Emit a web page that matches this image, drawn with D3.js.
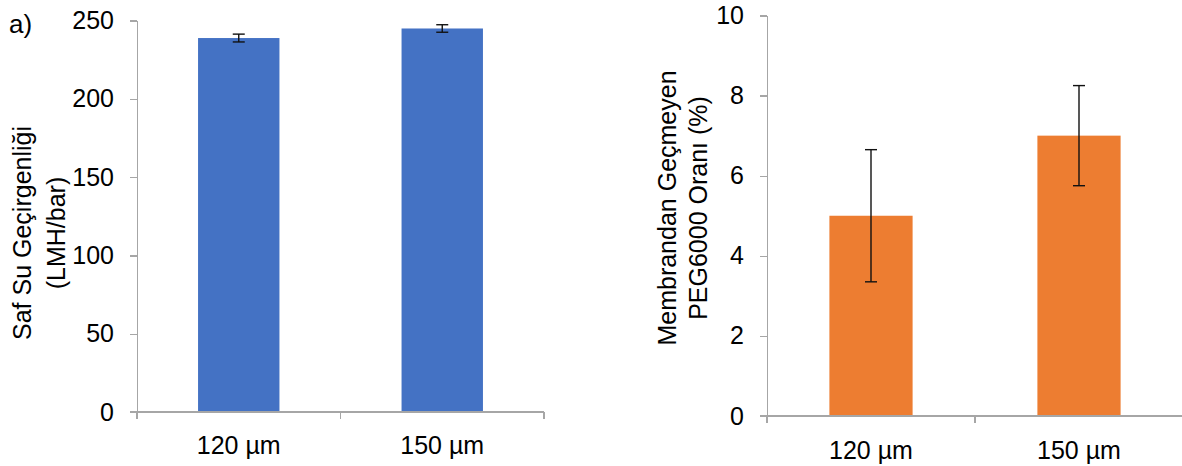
<!DOCTYPE html>
<html lang="tr">
<head>
<meta charset="UTF-8">
<title>Saf su geçirgenliği ve PEG6000</title>
<script src="https://d3js.org/d3.v7.min.js"></script>
<style>
    * { margin: 0; padding: 0; }
    body { background: #fff; }
    svg text { font-family: "Liberation Sans", Arial, sans-serif; fill: #000; }
    .axis path, .axis line { stroke: #a6a6a6; stroke-width: 1.3px; shape-rendering: crispEdges; }
</style>
</head>
<body>
<div id="content"></div>
<script>
    // data
    var categories = ["120 µm", "150 µm"];
    var permValues = [238.8, 244.9];     // LMH/bar
    var permErrors = [2.5, 2.4];
    var permTicks = [0, 50, 100, 150, 200, 250];
    var pegValues = [5.0, 7.0];          // %
    var pegErrors = [1.65, 1.25];
    var pegTicks = [0, 2, 4, 6, 8, 10];

    var width = 1182, height = 466;
    var fs = 25;
    var svg = d3.select("#content").append("svg")
        .attr("width", width).attr("height", height);

    function drawChart(opt) {
        var g = svg.append("g");

        var x = d3.scaleBand().domain(categories)
            .range([opt.left, opt.right])
            .paddingInner(0.6).paddingOuter(0.3);
        var y = d3.scaleLinear().domain(opt.domain).range([opt.bottom, opt.top]);

        // bars
        g.selectAll("rect").data(opt.values).enter().append("rect")
            .attr("x", function(d, i){ return x(categories[i]); })
            .attr("y", function(d){ return y(d); })
            .attr("width", x.bandwidth())
            .attr("height", function(d){ return y(0) - y(d); })
            .attr("fill", opt.color);

        // y axis
        var yAxis = d3.axisLeft(y).tickValues(opt.ticks).tickSize(7).tickSizeOuter(0).tickPadding(16);
        var ya = g.append("g").attr("class", "axis")
            .attr("transform", "translate(" + opt.left + ",0)")
            .call(yAxis);
        ya.attr("font-family", null).attr("font-size", null);
        ya.selectAll("text").attr("font-size", fs);

        // x axis line + category ticks
        var xa = g.append("g").attr("class", "axis");
        xa.append("line")
            .attr("x1", opt.left - 7).attr("x2", opt.right)
            .attr("y1", y(0)).attr("y2", y(0));
        var bounds = d3.range(categories.length + 1).map(function(i){ return opt.left + i * x.step(); });
        xa.selectAll(".tk").data(bounds).enter().append("line")
            .attr("class", "tk")
            .attr("x1", function(d){ return d; }).attr("x2", function(d){ return d; })
            .attr("y1", y(0)).attr("y2", y(0) + 7);
        g.selectAll(".xlab").data(categories).enter().append("text")
            .attr("class", "xlab")
            .attr("x", function(d){ return x(d) + x.bandwidth() / 2; })
            .attr("y", opt.labelY)
            .attr("text-anchor", "middle")
            .attr("font-size", fs)
            .text(function(d){ return d; });

        // error bars
        var eb = g.selectAll(".err").data(opt.values).enter().append("g").attr("class", "err")
            .attr("stroke", "#111").attr("stroke-width", 1.4);
        eb.append("line")
            .attr("x1", function(d, i){ return x(categories[i]) + x.bandwidth() / 2; })
            .attr("x2", function(d, i){ return x(categories[i]) + x.bandwidth() / 2; })
            .attr("y1", function(d, i){ return y(d + opt.errors[i]); })
            .attr("y2", function(d, i){ return y(d - opt.errors[i]); });
        [1, -1].forEach(function(s){
            eb.append("line")
                .attr("x1", function(d, i){ return x(categories[i]) + x.bandwidth() / 2 - 6; })
                .attr("x2", function(d, i){ return x(categories[i]) + x.bandwidth() / 2 + 6; })
                .attr("y1", function(d, i){ return y(d + s * opt.errors[i]); })
                .attr("y2", function(d, i){ return y(d + s * opt.errors[i]); });
        });

        // y title (two lines, rotated)
        var t = g.append("text")
            .attr("transform", "translate(" + opt.titleX + "," + opt.titleY + ") rotate(-90)")
            .attr("text-anchor", "middle")
            .attr("font-size", fs);
        opt.title.forEach(function(line, i){
            t.append("tspan").attr("x", 0).attr("dy", i === 0 ? 0 : opt.titleGap).text(line);
        });
    }

    drawChart({
        left: 137, right: 544, top: 20.5, bottom: 412,
        domain: [0, 250], ticks: permTicks,
        values: permValues, errors: permErrors, color: "#4472C4",
        labelY: 454,
        title: ["Saf Su Geçirgenliği", "(LMH/bar)"], titleX: 31, titleY: 233, titleGap: 34
    });

    drawChart({
        left: 767, right: 1183, top: 15.5, bottom: 416,
        domain: [0, 10], ticks: pegTicks,
        values: pegValues, errors: pegErrors, color: "#ED7D31",
        labelY: 459,
        title: ["Membrandan Geçmeyen", "PEG6000 Oranı (%)"], titleX: 676, titleY: 208, titleGap: 31
    });

    svg.append("text").attr("x", 9).attr("y", 33).attr("font-size", 26).text("a)");
</script>
</body>
</html>
